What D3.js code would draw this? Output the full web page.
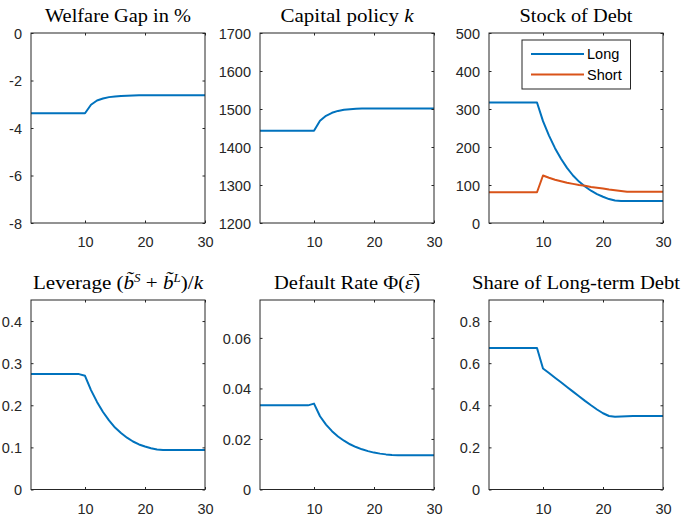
<!DOCTYPE html>
<html><head><meta charset="utf-8">
<script src="https://cdn.jsdelivr.net/npm/d3@7"></script>
<style>
html,body{margin:0;padding:0;background:#fff;}
svg{display:block;}
</style></head>
<body>
<svg id="chart" width="681" height="515"></svg>
<script>
// ---------- DATA ----------
const periods = [1,2,3,4,5,6,7,8,9,10,11,12,13,14,15,16,17,18,19,20,21,22,23,24,25,26,27,28,29,30];
const xTicks = [10, 20, 30];

const welfareGap = [-3.38,-3.38,-3.38,-3.38,-3.38,-3.38,-3.38,-3.38,-3.38,-3.38,
  -3.02,-2.84,-2.76,-2.70,-2.67,-2.65,-2.64,-2.63,
  -2.62,-2.62,-2.62,-2.62,-2.62,-2.62,-2.62,-2.62,-2.62,-2.62,-2.62,-2.62];
const capitalPolicy = [1443,1443,1443,1443,1443,1443,1443,1443,1443,1443,
  1469,1482,1490,1495,1498,1499.5,1500.5,1501,
  1501.5,1501.5,1501.5,1501.5,1501.5,1501.5,1501.5,1501.5,1501.5,1501.5,1501.5,1501.5];
const debtLong = [317,317,317,317,317,317,317,317,317,
  268,230,197,169,145,125,109,96,85,76,69,63,59,58,
  58,58,58,58,58,58,58];
const debtShort = [81,81,81,81,81,81,81,81,81,
  125,119,114,110,106,103,100,98,95,93,91,88,86,84,82,
  82,82,82,82,82,82];
const leverage = [0.274,0.274,0.274,0.274,0.274,0.274,0.274,0.274,0.274,
  0.270,0.236,0.208,0.184,0.164,0.147,0.134,0.123,0.114,0.107,0.102,0.098,0.095,0.094,
  0.094,0.094,0.094,0.094,0.094,0.094,0.094];
const defaultRate = [0.0333,0.0333,0.0333,0.0333,0.0333,0.0333,0.0333,0.0333,0.0333,
  0.0340,0.0290,0.0257,0.0231,0.0210,0.0193,0.0179,0.0168,0.0159,0.0152,0.0146,0.0142,0.0139,0.0137,
  0.0136,0.0136,0.0136,0.0136,0.0136,0.0136,0.0136];
const shareLong = [0.672,0.672,0.672,0.672,0.672,0.672,0.672,0.672,0.672,
  0.575,0.553,0.531,0.509,0.487,0.465,0.443,0.421,0.400,0.380,0.362,0.349,0.346,0.347,0.348,
  0.349,0.349,0.349,0.349,0.349,0.349];

const yTicks1 = [-8,-6,-4,-2,0];           const yLabels1 = ["-8","-6","-4","-2","0"];
const yTicks2 = [1200,1300,1400,1500,1600,1700]; const yLabels2 = ["1200","1300","1400","1500","1600","1700"];
const yTicks3 = [0,100,200,300,400,500];   const yLabels3 = ["0","100","200","300","400","500"];
const yTicks4 = [0,0.1,0.2,0.3,0.4];       const yLabels4 = ["0","0.1","0.2","0.3","0.4"];
const yTicks5 = [0,0.02,0.04,0.06];        const yLabels5 = ["0","0.02","0.04","0.06"];
const yTicks6 = [0,0.2,0.4,0.6,0.8];       const yLabels6 = ["0","0.2","0.4","0.6","0.8"];
const legendLabels = ["Long", "Short"];

// ---------- LAYOUT / STYLE ----------
const BLUE = "#0072BD", ORANGE = "#D95319", AX = "#262626";
const colX = [31, 260, 489], colW = 174;
const rowY = [33, 300], rowH = [190, 189.5];

const panels = [
  {col:0,row:0, ydom:[-8,0], yt:yTicks1, yl:yLabels1, series:[welfareGap], colors:[BLUE],
   title:[{t:"Welfare Gap in %"}], tw:146},
  {col:1,row:0, ydom:[1200,1700], yt:yTicks2, yl:yLabels2, series:[capitalPolicy], colors:[BLUE],
   title:[{t:"Capital policy "},{t:"k",i:true}], tw:133},
  {col:2,row:0, ydom:[0,500], yt:yTicks3, yl:yLabels3, series:[debtLong, debtShort], colors:[BLUE, ORANGE],
   title:[{t:"Stock of Debt"}], tw:113, legend:true},
  {col:0,row:1, ydom:[0,0.45], yt:yTicks4, yl:yLabels4, series:[leverage], colors:[BLUE],
   title:[{t:"Leverage ("},{t:"b\u0303",i:true},{t:"S",i:true,sup:true},{t:" + "},{t:"b\u0303",i:true},{t:"L",i:true,sup:true},{t:")/"},{t:"k",i:true}], tw:170},
  {col:1,row:1, ydom:[0,0.075], yt:yTicks5, yl:yLabels5, series:[defaultRate], colors:[BLUE],
   title:[{t:"Default Rate \u03A6("},{t:"\u03B5\u0305",i:true},{t:")"}], tw:146},
  {col:2,row:1, ydom:[0,0.9], yt:yTicks6, yl:yLabels6, series:[shareLong], colors:[BLUE],
   title:[{t:"Share of Long-term Debt"}], tw:208},
];

const svg = d3.select("#chart");
const tickFont = "'Liberation Sans', Arial, Helvetica, sans-serif";
const titleFont = "'Liberation Serif', 'Times New Roman', serif";

panels.forEach(p => {
  const x0 = colX[p.col], y0 = rowY[p.row], h = rowH[p.row];
  const x = d3.scaleLinear().domain([1,30]).range([x0, x0 + colW]);
  const y = d3.scaleLinear().domain(p.ydom).range([y0 + h, y0]);
  const g = svg.append("g");

  // data lines
  const line = d3.line().x((d,i) => x(periods[i])).y(d => y(d));
  p.series.forEach((s, k) => {
    g.append("path").datum(s).attr("d", line)
      .attr("fill","none").attr("stroke", p.colors[k]).attr("stroke-width", 2)
      .attr("stroke-linejoin","round");
  });

  // axes with inward ticks on all four sides
  const tl = 2.5;
  const axB = d3.axisBottom(x).tickValues(xTicks).tickSizeInner(-tl).tickSizeOuter(0).tickFormat(d => d);
  const axT = d3.axisTop(x).tickValues(xTicks).tickSizeInner(-tl).tickSizeOuter(0).tickFormat("");
  const axL = d3.axisLeft(y).tickValues(p.yt).tickSizeInner(-tl).tickSizeOuter(0).tickFormat((d,i) => p.yl[i]);
  const axR = d3.axisRight(y).tickValues(p.yt).tickSizeInner(-tl).tickSizeOuter(0).tickFormat("");

  const gb = g.append("g").attr("transform",`translate(0,${y0+h})`).call(axB);
  const gt = g.append("g").attr("transform",`translate(0,${y0})`).call(axT);
  const gl = g.append("g").attr("transform",`translate(${x0},0)`).call(axL);
  const gr = g.append("g").attr("transform",`translate(${x0+colW},0)`).call(axR);
  [gb,gt,gl,gr].forEach(a => {
    a.attr("font-family", null).attr("font-size", null);
    a.select(".domain").remove();
    a.selectAll(".tick line").attr("stroke", AX).attr("stroke-width", 1);
  });
  gb.selectAll(".tick text").attr("y", 0).attr("dy", 0)
    .attr("transform","translate(0,24)")
    .style("font-family", tickFont).style("font-size", "14.5px").attr("fill", AX);
  gl.selectAll(".tick text").attr("x", -9).attr("dy","0.36em")
    .style("font-family", tickFont).style("font-size", "14.5px").attr("fill", AX);

  // box
  g.append("rect").attr("x", x0).attr("y", y0).attr("width", colW).attr("height", h)
    .attr("fill","none").attr("stroke", AX).attr("stroke-width", 1);

  // title (font size fitted to the reference title width)
  const t = g.append("text").attr("x", x0 + colW/2).attr("y", y0 - 11)
    .attr("text-anchor","middle").style("font-family", titleFont).style("font-size","17px").attr("fill","#000");
  p.title.forEach(part => {
    const ts = t.append("tspan").text(part.t);
    if (part.i) ts.style("font-style","italic");
    if (part.sup) ts.attr("baseline-shift","super").style("font-size","12px");
  });
  const w = t.node().getComputedTextLength();
  const fs = Math.max(15, Math.min(19.5, 17 * p.tw / w));
  t.style("font-size", fs + "px");
  const w2 = t.node().getComputedTextLength();
  if (Math.abs(w2 - p.tw) > 3) t.attr("textLength", p.tw).attr("lengthAdjust","spacingAndGlyphs");

  // legend
  if (p.legend) {
    const lg = g.append("g");
    lg.append("rect").attr("x", 522).attr("y", 40).attr("width", 108.5).attr("height", 49)
      .attr("fill","#fff").attr("stroke", AX).attr("stroke-width", 1);
    legendLabels.forEach((lab, k) => {
      const ly = 54 + k*20.5;
      lg.append("line").attr("x1", 531).attr("x2", 584).attr("y1", ly).attr("y2", ly)
        .attr("stroke", p.colors[k]).attr("stroke-width", 2);
      lg.append("text").attr("x", 587).attr("y", ly).attr("dy","0.36em")
        .style("font-family", tickFont).style("font-size","14.5px").attr("fill","#000").text(lab);
    });
  }
});
</script>
</body></html>
